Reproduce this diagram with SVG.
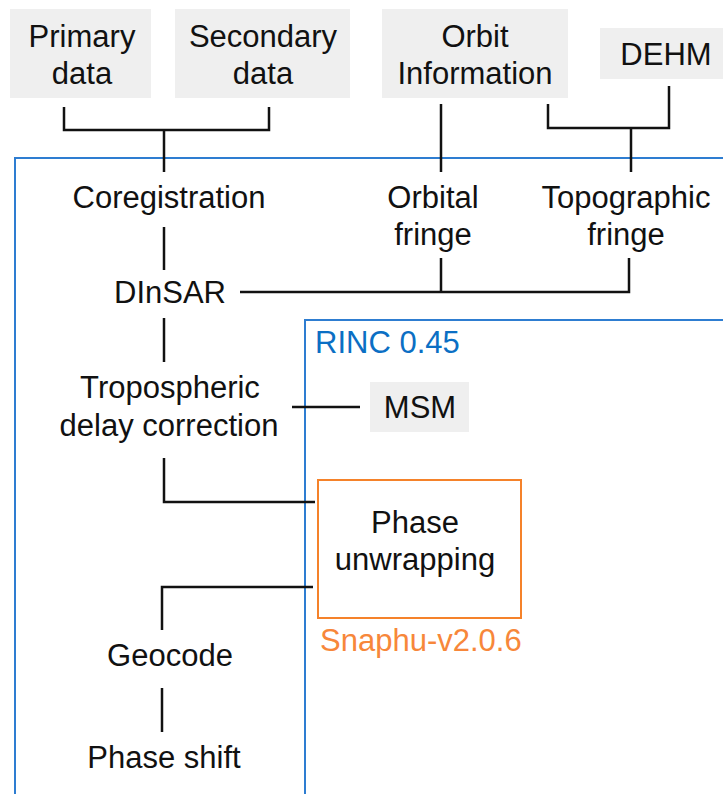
<svg xmlns="http://www.w3.org/2000/svg" width="723" height="794" viewBox="0 0 723 794">
  <style>
    .t { font-family: "Liberation Sans", Arial, sans-serif; font-size: 31px; fill: #111; text-anchor: middle; }
    .src { fill: #efefef; }
    .ln { stroke: #111; stroke-width: 2.5; fill: none; }
    .blue { stroke: #2e7dd1; stroke-width: 2; fill: none; }
    .orange { stroke: #f5822a; stroke-width: 2; fill: none; }
  </style>
  <rect width="723" height="794" fill="#fff"/>

  <!-- processing frames -->
  <rect class="blue" x="15" y="158" width="720" height="650"/>
  <rect class="blue" x="305" y="320" width="430" height="490"/>
  <text class="t" x="315" y="353" style="text-anchor:start;fill:#0b6fc4">RINC 0.45</text>

  <!-- connectors -->
  <g id="connectors">
    <path class="ln" d="M64 107 V130 H269 V107 M164 130 V172"/>
    <path class="ln" d="M441 104 V172"/>
    <path class="ln" d="M548 104 V128 H669 V86 M631 128 V172"/>
    <path class="ln" d="M164 227 V270"/>
    <path class="ln" d="M240 292 H629 V258 M441 258 V292"/>
    <path class="ln" d="M164 318 V362"/>
    <path class="ln" d="M292 407 H360"/>
    <path class="ln" d="M164 458 V502 H315"/>
    <path class="ln" d="M313 587 H162 V630"/>
    <path class="ln" d="M162 688 V732"/>
  </g>

  <!-- input data -->
  <g id="primary">
    <rect class="src" x="10" y="9" width="141" height="89"/>
    <text class="t" x="82" y="47">Primary</text>
    <text class="t" x="82" y="84">data</text>
  </g>
  <g id="secondary">
    <rect class="src" x="175" y="9" width="175" height="89"/>
    <text class="t" x="263" y="47">Secondary</text>
    <text class="t" x="263" y="84">data</text>
  </g>
  <g id="orbit">
    <rect class="src" x="382" y="9" width="186" height="89"/>
    <text class="t" x="475" y="47">Orbit</text>
    <text class="t" x="475" y="84">Information</text>
  </g>
  <g id="dehm">
    <rect class="src" x="600" y="28" width="123" height="51"/>
    <text class="t" x="666" y="65">DEHM</text>
  </g>

  <!-- processing steps -->
  <g id="coregistration">
    <text class="t" x="169" y="208">Coregistration</text>
  </g>
  <g id="orbital-fringe">
    <text class="t" x="433" y="208">Orbital</text>
    <text class="t" x="433" y="245">fringe</text>
  </g>
  <g id="topographic-fringe">
    <text class="t" x="626" y="208">Topographic</text>
    <text class="t" x="626" y="245">fringe</text>
  </g>
  <g id="dinsar">
    <text class="t" x="170" y="303">DInSAR</text>
  </g>
  <g id="tropospheric">
    <text class="t" x="170" y="398">Tropospheric</text>
    <text class="t" x="169" y="436">delay correction</text>
  </g>
  <g id="msm">
    <rect class="src" x="370" y="382" width="99" height="50"/>
    <text class="t" x="420" y="418">MSM</text>
  </g>
  <g id="phase-unwrapping">
    <rect class="orange" x="318" y="480" width="203" height="138"/>
    <text class="t" x="415" y="533">Phase</text>
    <text class="t" x="415" y="570">unwrapping</text>
    <text class="t" x="320" y="651" style="text-anchor:start;fill:#f7873a">Snaphu-v2.0.6</text>
  </g>
  <g id="geocode">
    <text class="t" x="170" y="666">Geocode</text>
  </g>
  <g id="phase-shift">
    <text class="t" x="164" y="768">Phase shift</text>
  </g>
</svg>
